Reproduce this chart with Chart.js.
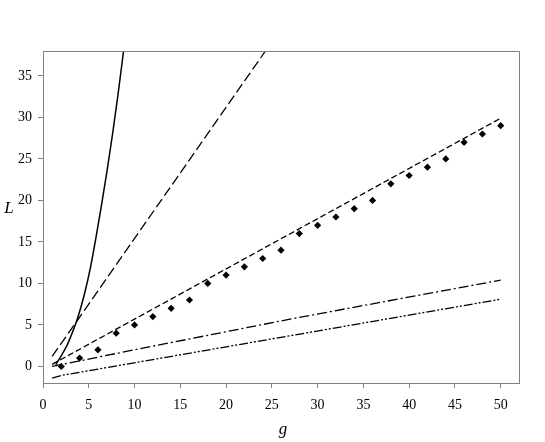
<!DOCTYPE html>
<html>
<head>
<meta charset="utf-8">
<script src="https://cdn.jsdelivr.net/npm/chart.js@4/dist/chart.umd.min.js"></script>
<style>
html,body{margin:0;padding:0;background:#fff;}
#wrap{width:545px;height:442px;position:relative;}
</style>
</head>
<body>
<div id="wrap"><canvas id="c" width="545" height="442"></canvas></div>
<script>
// ---- data ----
const pointG = [2,4,6,8,10,12,14,16,18,20,22,24,26,28,30,32,34,36,38,40,42,44,46,48,50];
const pointL = [0,1,2,4,5,6,7,8,10,11,12,13,14,16,17,18,19,20,22,23,24,25,27,28,29];

const solidG = [1.4,2,2.65,3,3.75,4.5,5.2,5.8,6.4,7,7.6,8.2,8.8];
const solidL = [0.2,1.3,2.6,3.5,5.7,8.6,12.0,15.6,19.5,23.6,28.0,32.8,38];

const longDashG = [1,24.3];
const longDashL = [1.2,38];

const shortDashG = [1,50];
const shortDashL = [0.25,29.9];

const dashDotG = [1,10,27,50];
const dashDotL = [0,2.0,5.7,10.4];

const dashDotDotG = [1,2.2,50];
const dashDotDotL = [-1.4,-1.05,8.1];

const xTicks = [0,5,10,15,20,25,30,35,40,45,50];
const yTicks = [0,5,10,15,20,25,30,35];
const xTitle = 'g';
const yTitle = 'L';

const toXY = (gs, ls) => gs.map((g, i) => ({x: g, y: ls[i]}));

const axisColor = '#808080';
const fontFamily = '"Liberation Serif", "DejaVu Serif", serif';

const framePlugin = {
  id: 'frame',
  afterDraw(chart) {
    const {ctx, chartArea: a} = chart;
    ctx.save();
    ctx.strokeStyle = axisColor;
    ctx.lineWidth = 1;
    ctx.beginPath();
    ctx.moveTo(a.left, a.top + 0.5);
    ctx.lineTo(a.right + 0.5, a.top + 0.5);
    ctx.lineTo(a.right + 0.5, a.bottom);
    ctx.stroke();
    ctx.fillStyle = '#000';
    ctx.font = 'italic 17px ' + fontFamily;
    ctx.textAlign = 'center';
    ctx.textBaseline = 'middle';
    ctx.fillText(yTitle, 9, 209);
    ctx.fillText(xTitle, (a.left + a.right) / 2 + 2, 430);
    ctx.restore();
  }
};

const lineDs = (data, dash, width) => ({
  type: 'line', data, borderColor: '#000', borderWidth: width || 1.3,
  borderDash: dash, pointRadius: 0, fill: false, tension: 0
});

new Chart(document.getElementById('c'), {
  type: 'scatter',
  data: {
    datasets: [
      Object.assign(lineDs(toXY(solidG, solidL), [], 1.5), {cubicInterpolationMode: 'monotone'}),
      lineDs(toXY(longDashG, longDashL), [10, 4]),
      lineDs(toXY(shortDashG, shortDashL), [6, 3]),
      lineDs(toXY(dashDotG, dashDotL), [10, 3, 2, 3]),
      lineDs(toXY(dashDotDotG, dashDotDotL), [9, 2, 2, 2, 2, 2]),
      {
        type: 'scatter', data: toXY(pointG, pointL),
        pointStyle: 'rectRot', pointRadius: 3.6,
        backgroundColor: '#000', borderColor: '#000', borderWidth: 0
      }
    ]
  },
  options: {
    responsive: false,
    animation: false,
    devicePixelRatio: 1,
    layout: {padding: {top: 51, right: 26, left: 0, bottom: 0}},
    plugins: {legend: {display: false}, tooltip: {enabled: false}},
    scales: {
      x: {
        type: 'linear', min: 0, max: 52,
        afterBuildTicks: s => { s.ticks = xTicks.map(v => ({value: v})); },
        afterFit: s => { s.height = 59; },
        grid: {drawOnChartArea: false, drawTicks: true, tickLength: 5, color: axisColor},
        border: {display: true, color: axisColor, width: 1},
        ticks: {color: '#000', padding: 9, font: {family: fontFamily, size: 14}, maxRotation: 0}
      },
      y: {
        type: 'linear', min: -2, max: 38,
        afterBuildTicks: s => { s.ticks = yTicks.map(v => ({value: v})); },
        afterFit: s => { s.width = 43; },
        grid: {drawOnChartArea: false, drawTicks: true, tickLength: 5, color: axisColor},
        border: {display: true, color: axisColor, width: 1},
        ticks: {color: '#000', padding: 6, font: {family: fontFamily, size: 14}}
      }
    }
  },
  plugins: [framePlugin]
});
</script>
</body>
</html>
